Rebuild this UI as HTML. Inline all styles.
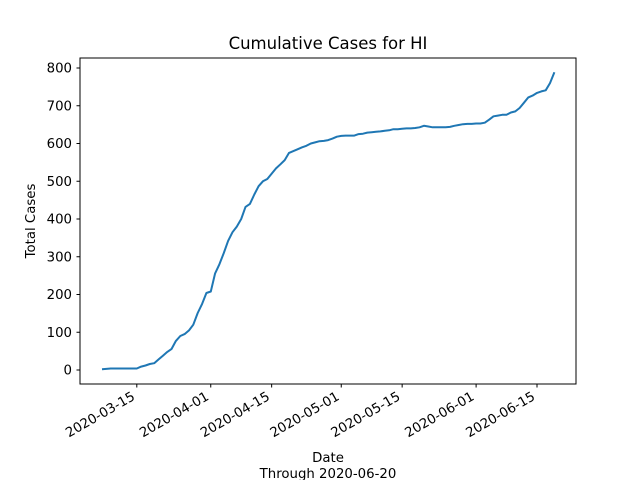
<!DOCTYPE html>
<html><head><meta charset="utf-8"><style>body{margin:0;background:#fff}svg{display:block;font-family:"DejaVu Sans","Liberation Sans",sans-serif}</style></head>
<body>
<svg id="chart" width="640" height="480" viewBox="0 0 640 480">
<rect x="0" y="0" width="640" height="480" fill="#fff"/>
<text x="328" y="49" font-size="16.5" text-anchor="middle">Cumulative Cases for HI</text>
<text x="328" y="462" font-size="13.3" text-anchor="middle">Date</text>
<text x="328" y="478" font-size="13.3" text-anchor="middle">Through 2020-06-20</text>
<text x="0" y="0" font-size="13.3" text-anchor="middle" transform="translate(35,221) rotate(-90)">Total Cases</text>
<g id="plot"></g>
<rect x="80" y="58" width="496" height="326" fill="none" stroke="#000" stroke-width="1"/>
</svg>
<script>
const startDate = "2020-03-07";
const cases = [2,3,4,4,4,4,4,4,4,9,12,16,18,28,38,48,56,77,90,95,105,120,151,175,204,208,256,280,310,342,365,380,400,432,440,465,487,500,506,520,534,545,556,575,580,585,590,594,600,603,606,607,609,613,618,620,621,621,621,625,626,629,630,631,632,634,635,638,638,639,640,640,641,643,647,645,643,643,643,643,644,647,649,651,652,652,653,653,655,663,672,674,676,676,682,685,694,708,722,727,734,738,741,760,789];
const yTicks = [0,100,200,300,400,500,600,700,800];
const xTickLabels = ["2020-03-15","2020-04-01","2020-04-15","2020-05-01","2020-05-15","2020-06-01","2020-06-15"];

const NS="http://www.w3.org/2000/svg";
const g=document.getElementById('plot');
const DAY=86400000;
const t0=Date.parse(startDate);
function xScale(ms){return 102+(ms-t0)/DAY*4.35;}
function yScale(v){return 370-v*(302/800);}
function mk(tag,attrs){const e=document.createElementNS(NS,tag);for(const k in attrs)e.setAttribute(k,attrs[k]);g.appendChild(e);return e;}
yTicks.forEach(v=>{
  const y=yScale(v);
  const l=mk('line',{x1:76.5,x2:80,y1:y,y2:y,stroke:'#000'});
  
  
  const t=mk('text',{x:72,y:y+4.5,'font-size':13.3,'text-anchor':'end'});
  t.textContent=v;
  
  
});
xTickLabels.forEach(d=>{
  const x=xScale(Date.parse(d));
  const l=mk('line',{x1:x,x2:x,y1:384,y2:387.5,stroke:'#000'});
  
  
  const t=mk('text',{x:0,y:0,'font-size':13.3,'text-anchor':'end',transform:`translate(${x-1},${399}) rotate(-30)`});
  t.textContent=d;
  
  
});
const pts=cases.map((v,i)=>xScale(t0+i*DAY).toFixed(1)+','+yScale(v).toFixed(1)).join(' ');
const line=mk('polyline',{points:pts,fill:'none',stroke:'#1f77b4','stroke-width':2,'stroke-linejoin':'round'});


</script>
</body></html>
